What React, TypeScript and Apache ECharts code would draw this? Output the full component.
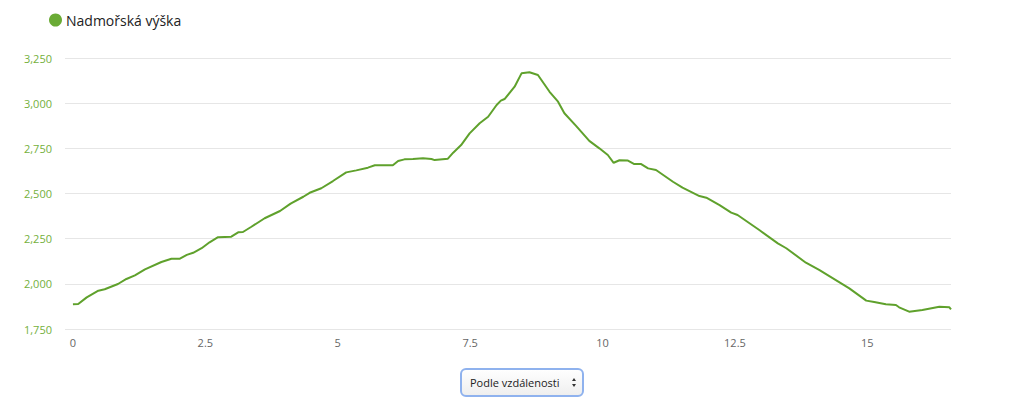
import React, { useEffect, useRef } from "react";
import * as echarts from "echarts";

const seriesName = "Nadmořská výška";
const distanceKm = [
  0, 0.1, 0.26, 0.48, 0.6, 0.85, 1.01, 1.17, 1.36, 1.67, 1.86, 2.02, 2.15, 2.27, 2.43, 2.58, 2.74, 2.99, 3.12, 3.21,
  3.37, 3.62, 3.91, 4.11, 4.35, 4.47, 4.69, 4.91, 5.16, 5.35, 5.57, 5.7, 6.04, 6.14, 6.26, 6.42, 6.61, 6.77, 6.83,
  7.08, 7.18, 7.33, 7.49, 7.68, 7.84, 8.0, 8.08, 8.15, 8.34, 8.47, 8.62, 8.78, 9.0, 9.16, 9.28, 9.5, 9.75, 9.94,
  10.1, 10.21, 10.32, 10.48, 10.6, 10.73, 10.86, 11.01, 11.33, 11.51, 11.83, 11.96, 12.21, 12.43, 12.55, 12.96,
  13.31, 13.47, 13.84, 14.09, 14.66, 14.98, 15.13, 15.35, 15.54, 15.6, 15.79, 16.04, 16.36, 16.55, 16.58,
];
const elevationM = [
  1887, 1888, 1925, 1962, 1970, 1999, 2027, 2047, 2080, 2121, 2139, 2139, 2160, 2172, 2197, 2230, 2258, 2261, 2285,
  2287, 2316, 2363, 2403, 2444, 2482, 2504, 2529, 2569, 2617, 2628, 2643, 2656, 2656, 2680, 2689, 2691, 2695, 2691,
  2685, 2693, 2726, 2768, 2833, 2889, 2925, 2990, 3014, 3023, 3091, 3165, 3171, 3156, 3063, 3008, 2944, 2874, 2791,
  2750, 2713, 2670, 2684, 2682, 2663, 2663, 2639, 2630, 2565, 2532, 2486, 2477, 2436, 2394, 2381, 2298, 2224, 2197,
  2117, 2077, 1975, 1907, 1899, 1887, 1883, 1870, 1846, 1855, 1873, 1870, 1859,
];
const xTickValues = [0, 2.5, 5, 7.5, 10, 12.5, 15];
const selectLabel = "Podle vzdálenosti";

export default function App() {
  const ref = useRef<HTMLDivElement>(null);
  useEffect(() => {
    if (!ref.current) return;
    const chart = echarts.init(ref.current, null, { renderer: "svg" });
    const font = "'Open Sans', 'DejaVu Sans', sans-serif";
    chart.setOption({
      animation: false,
      backgroundColor: "#ffffff",
      legend: {
        left: 44,
        top: 8,
        icon: "circle",
        itemWidth: 13,
        itemHeight: 13,
        itemGap: 4,
        textStyle: { fontSize: 14, color: "#222222", fontFamily: font, padding: [0, 0, 0, -1] },
        data: [seriesName],
      },
      grid: { left: 65, right: 73, top: 58, bottom: 85, containLabel: false },
      xAxis: {
        type: "value",
        min: -0.15,
        max: 16.58,
        axisLine: { show: false },
        axisTick: { show: false },
        splitLine: { show: false },
        axisLabel: {
          customValues: xTickValues,
          color: "#666666",
          fontSize: 11,
          fontFamily: font,
          margin: 8,
          formatter: (v: number) => String(v),
        },
      },
      yAxis: {
        type: "value",
        min: 1750,
        max: 3250,
        interval: 250,
        axisLine: { show: false },
        axisTick: { show: false },
        splitLine: { lineStyle: { color: "#e6e6e6", width: 1 } },
        axisLabel: {
          color: "#74b03c",
          fontSize: 11,
          fontFamily: font,
          margin: 13,
          formatter: (v: number) => v.toLocaleString("en-US"),
        },
      },
      series: [
        {
          name: seriesName,
          type: "line",
          data: distanceKm.map((d, i) => [d, elevationM[i]]),
          showSymbol: false,
          symbol: "none",
          color: "#6aab35",
          lineStyle: { color: "#5fa12c", width: 2 },
        },
      ],
      graphic: [
        {
          type: "rect",
          shape: { x: 461, y: 369, width: 122, height: 27, r: 5 },
          style: {
            fill: new echarts.graphic.LinearGradient(0, 0, 0, 1, [
              { offset: 0, color: "#ffffff" },
              { offset: 1, color: "#eeeeee" },
            ]),
            stroke: "#8fb2ee",
            lineWidth: 2,
          },
        },
        {
          type: "text",
          x: 470,
          y: 382.5,
          style: {
            text: selectLabel,
            fontSize: 11,
            fontFamily: font,
            fill: "#222222",
            verticalAlign: "middle",
          },
        },
        {
          type: "polygon",
          shape: { points: [[572, 381], [576, 381], [574, 378]] },
          style: { fill: "#333333" },
        },
        {
          type: "polygon",
          shape: { points: [[572, 384], [576, 384], [574, 387]] },
          style: { fill: "#333333" },
        },
      ],
    });
    return () => chart.dispose();
  }, []);
  return (
    <div
      ref={ref}
      style={{ position: "fixed", left: 0, top: 0, width: 1024, height: 414 }}
    />
  );
}
